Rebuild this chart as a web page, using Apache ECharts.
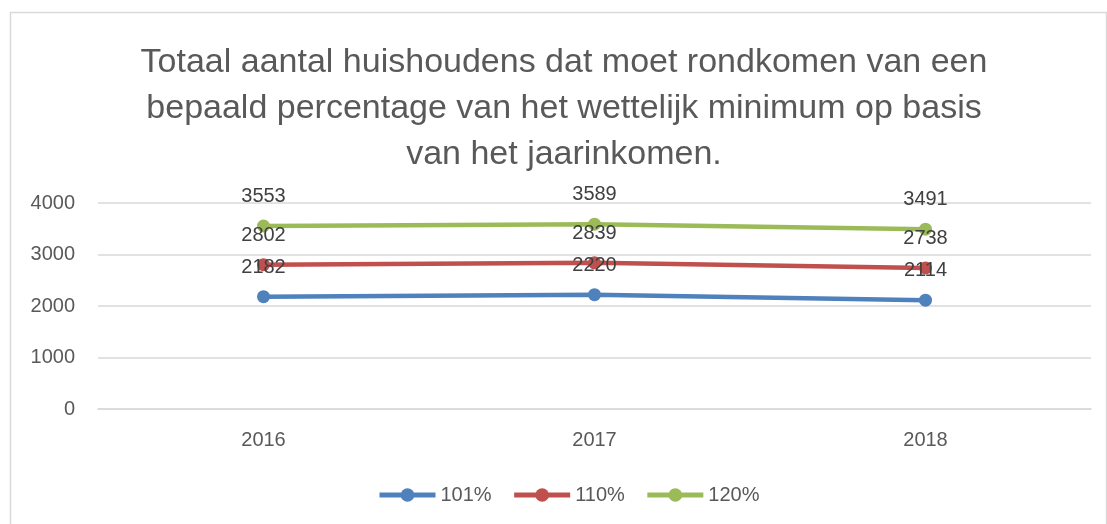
<!DOCTYPE html>
<html>
<head>
<meta charset="utf-8">
<script src="https://cdn.jsdelivr.net/npm/echarts@6/dist/echarts.min.js"></script>
<style>html,body{margin:0;padding:0;background:#fff}#c{width:1107px;height:524px}</style>
</head>
<body>
<div id="c"></div>
<script>
const titleText = "Totaal aantal huishoudens dat moet rondkomen van een\nbepaald percentage van het wettelijk minimum op basis\nvan het jaarinkomen.";
const categories = ["2016", "2017", "2018"];
const seriesNames = ["101%", "110%", "120%"];
const values101 = [2182, 2220, 2114];
const values110 = [2802, 2839, 2738];
const values120 = [3553, 3589, 3491];
const yTicks = { min: 0, max: 4000, interval: 1000 };
const colors = ["#4F81BD", "#C0504D", "#9BBB59"];
const FONT = "Liberation Sans";

const chart = echarts.init(document.getElementById('c'), null, { renderer: 'canvas' });
function mk(name, data, color) {
  return {
    name: name, type: 'line', data: data,
    symbol: 'circle', symbolSize: 13,
    lineStyle: { color: color, width: 4.5 },
    itemStyle: { color: color },
    label: { show: true, position: 'top', distance: 13, color: '#404040', fontSize: 20, fontFamily: FONT },
    emphasis: { disabled: true },
    animation: false
  };
}
chart.setOption({
  animation: false,
  color: colors,
  graphic: [{
    type: 'rect', shape: { x: 10.5, y: 12.5, width: 1096, height: 540 },
    style: { fill: 'none', stroke: '#D9D9D9', lineWidth: 1.5 }, silent: true, z: -10
  }],
  title: {
    text: titleText, left: 559, textAlign: 'center', top: 35,
    textStyle: { fontSize: 34, fontWeight: 'normal', color: '#595959', lineHeight: 46, fontFamily: FONT }
  },
  legend: {
    data: seriesNames, left: 372, top: 480,
    itemWidth: 56, itemHeight: 17, itemGap: 20,
    lineStyle: { width: 5 },
    textStyle: { fontSize: 20, color: '#595959', fontFamily: FONT }
  },
  grid: { left: 98, right: 16, top: 203, bottom: 115 },
  xAxis: {
    type: 'category', data: categories, boundaryGap: true,
    axisLine: { lineStyle: { color: '#D9D9D9', width: 1.5 } },
    axisTick: { show: false },
    axisLabel: { color: '#595959', fontSize: 20, margin: 21, fontFamily: FONT }
  },
  yAxis: {
    type: 'value', min: yTicks.min, max: yTicks.max, interval: yTicks.interval,
    axisLine: { show: false }, axisTick: { show: false },
    splitLine: { lineStyle: { color: '#D9D9D9', width: 1.5 } },
    axisLabel: { color: '#595959', fontSize: 20, margin: 23, fontFamily: FONT, formatter: function (v) { return String(v); } }
  },
  series: [mk(seriesNames[0], values101, colors[0]), mk(seriesNames[1], values110, colors[1]), mk(seriesNames[2], values120, colors[2])]
});
</script>
</body>
</html>
